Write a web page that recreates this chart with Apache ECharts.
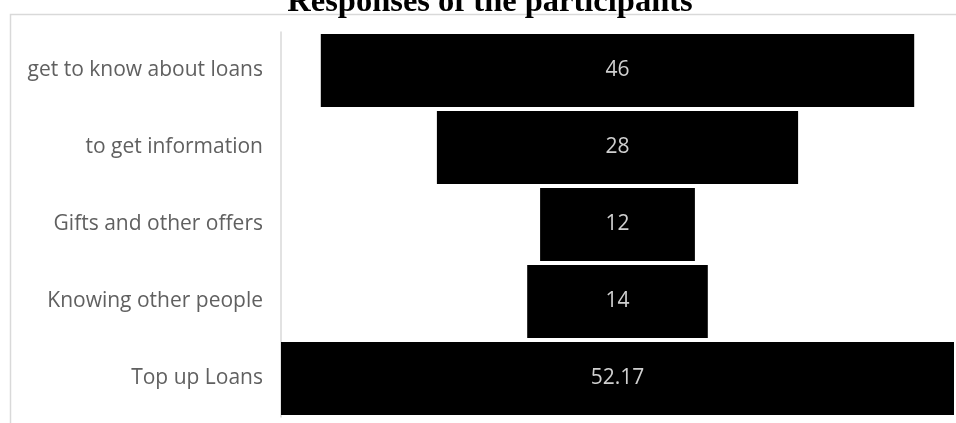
<!DOCTYPE html>
<html>
<head>
<meta charset="utf-8">
<script src="https://cdn.jsdelivr.net/npm/echarts@6/dist/echarts.min.js"></script>
<style>html,body{margin:0;padding:0;background:#fff}#c{width:956px;height:423px}</style>
</head>
<body>
<div id="c"></div>
<script>
const categories = ["get to know about loans", "to get information", "Gifts and other offers", "Knowing other people", "Top up Loans"];
const values = [46, 28, 12, 14, 52.17];
const titleText = "Responses of the participants";

const maxVal = Math.max(...values);
const spacer = values.map(v => (maxVal - v) / 2);

const chart = echarts.init(document.getElementById('c'), null, {renderer: 'canvas'});
chart.setOption({
  animation: false,
  backgroundColor: '#fff',
  title: {
    text: titleText,
    left: 485, top: -19, textAlign: 'center',
    textStyle: {fontFamily: 'Liberation Serif', fontWeight: 'bold', fontSize: 32.5, color: '#000'}
  },
  graphic: [{
    type: 'rect', silent: true, z: -1,
    shape: {x: 10.5, y: 14.5, width: 1000, height: 500},
    style: {fill: 'none', stroke: '#d9d9d9', lineWidth: 1.5}
  }],
  grid: {left: 281, right: 2, top: 32, bottom: 6, containLabel: false},
  xAxis: {type: 'value', min: 0, max: maxVal, show: false},
  yAxis: {
    type: 'category', data: categories, inverse: true,
    axisLine: {show: true, lineStyle: {color: '#d9d9d9', width: 1.5}},
    axisTick: {show: false},
    axisLabel: {color: '#606060', fontFamily: 'Open Sans', fontSize: 21, margin: 18}
  },
  series: [
    {type: 'bar', stack: 'f', data: spacer, itemStyle: {color: 'transparent'}, barCategoryGap: '5%', silent: true},
    {type: 'bar', stack: 'f', data: values, itemStyle: {color: '#000'}, barCategoryGap: '5%',
     label: {show: true, position: 'inside', color: '#cfcfcf', fontFamily: 'Open Sans', fontSize: 21}}
  ]
});
</script>
</body>
</html>
